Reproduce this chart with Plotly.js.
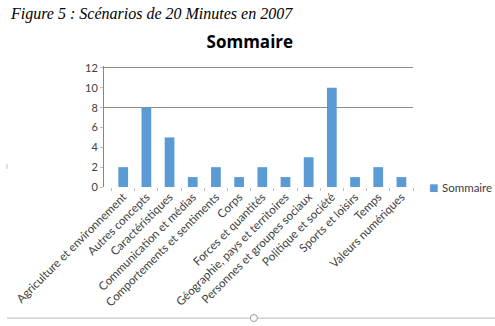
<!DOCTYPE html>
<html><head><meta charset="utf-8">
<script src="https://cdn.plot.ly/plotly-3.0.1.min.js"></script>
<style>html,body{margin:0;padding:0;background:#fff}#chart{width:495px;height:326px}</style>
</head><body><div id="chart"></div>
<script>
const categories = ["Agriculture et environnement","Autres concepts","Caractéristiques","Communication et médias","Comportements et sentiments","Corps","Forces et quantités","Géographie, pays et territoires","Personnes et groupes sociaux","Politique et société","Sports et loisirs","Temps","Valeurs numériques"];
const values = [2,8,5,1,2,1,2,1,3,10,1,2,1];
const seriesName = "Sommaire";
const yTicks = [0,2,4,6,8,10,12];
const gridTicks = [8,12];
const barColor = '#5B9BD5';

const trace = {type:'bar', x:categories, y:values, name:seriesName, marker:{color:barColor}, width:0.42, showlegend:false};
const ghost = {type:'scatter', x:[categories[0]], y:[null], yaxis:'y2', showlegend:false, hoverinfo:'skip'};

const layout = {
  width:495, height:326,
  margin:{l:104, r:82, t:66, b:139},
  showlegend:false,
  paper_bgcolor:'#fff', plot_bgcolor:'rgba(0,0,0,0)',
  font:{family:'Lato, "Open Sans", sans-serif', color:'#404040'},
  title:{text:'<b>Sommaire</b>', x:0.472, xanchor:'center', xref:'paper', yref:'container', y:0.87, yanchor:'middle', font:{family:'"Open Sans", sans-serif', size:17, color:'#000'}},
  xaxis:{type:'category', tickangle:-45, tickfont:{size:11.6, color:'#404040'}, ticks:'outside', tickson:'boundaries', ticklen:3, tickcolor:'#bfbfbf', showline:false, showgrid:false, zeroline:false, automargin:false},
  yaxis:{range:[0,12.2], tickvals:yTicks, tickfont:{size:11, color:'#404040'}, showgrid:false, zeroline:false, showline:true, linecolor:'#868686', linewidth:1, ticks:'outside', ticklen:3, tickcolor:'#bfbfbf', automargin:false},
  yaxis2:{overlaying:'y', range:[0,12.2], tickvals:gridTicks, showticklabels:false, showgrid:true, gridcolor:'#8c8c8c', gridwidth:1, zeroline:false, showline:false, ticks:''},
  bargap:0.5,
  annotations:[
    {text:'<i>Figure 5 : Scénarios de 20 Minutes en 2007</i>', xref:'paper', yref:'paper', x:-0.31, y:1.43, xanchor:'left', yanchor:'middle', showarrow:false, font:{family:'"Liberation Serif", "DejaVu Serif", serif', size:16, color:'#000'}},
    {text:'■', xref:'paper', yref:'paper', x:1.065, y:0.0, xanchor:'center', yanchor:'middle', showarrow:false, font:{family:'"DejaVu Sans", sans-serif', size:10, color:barColor}},
    {text:seriesName, xref:'paper', yref:'paper', x:1.088, y:0.0, xanchor:'left', yanchor:'middle', showarrow:false, font:{size:11.5, color:'#404040'}}
  ],
  shapes:[
    {type:'line', xref:'paper', yref:'paper', x0:-0.314, x1:1.27, y0:-1.083, y1:-1.083, line:{color:'#c8c8c8', width:1.2}},
    {type:'circle', xref:'paper', yref:'paper', xsizemode:'pixel', ysizemode:'pixel', xanchor:0.485, yanchor:-1.083, x0:-3.5, x1:3.5, y0:-3.5, y1:3.5, fillcolor:'#fff', line:{color:'#9a9a9a', width:1}},
    {type:'line', xref:'paper', yref:'paper', x0:-0.314, x1:-0.314, y0:0.15, y1:0.19, line:{color:'#c0c0c0', width:1}}
  ]
};
Plotly.newPlot('chart', [trace, ghost], layout, {displayModeBar:false, staticPlot:true});
</script></body></html>
